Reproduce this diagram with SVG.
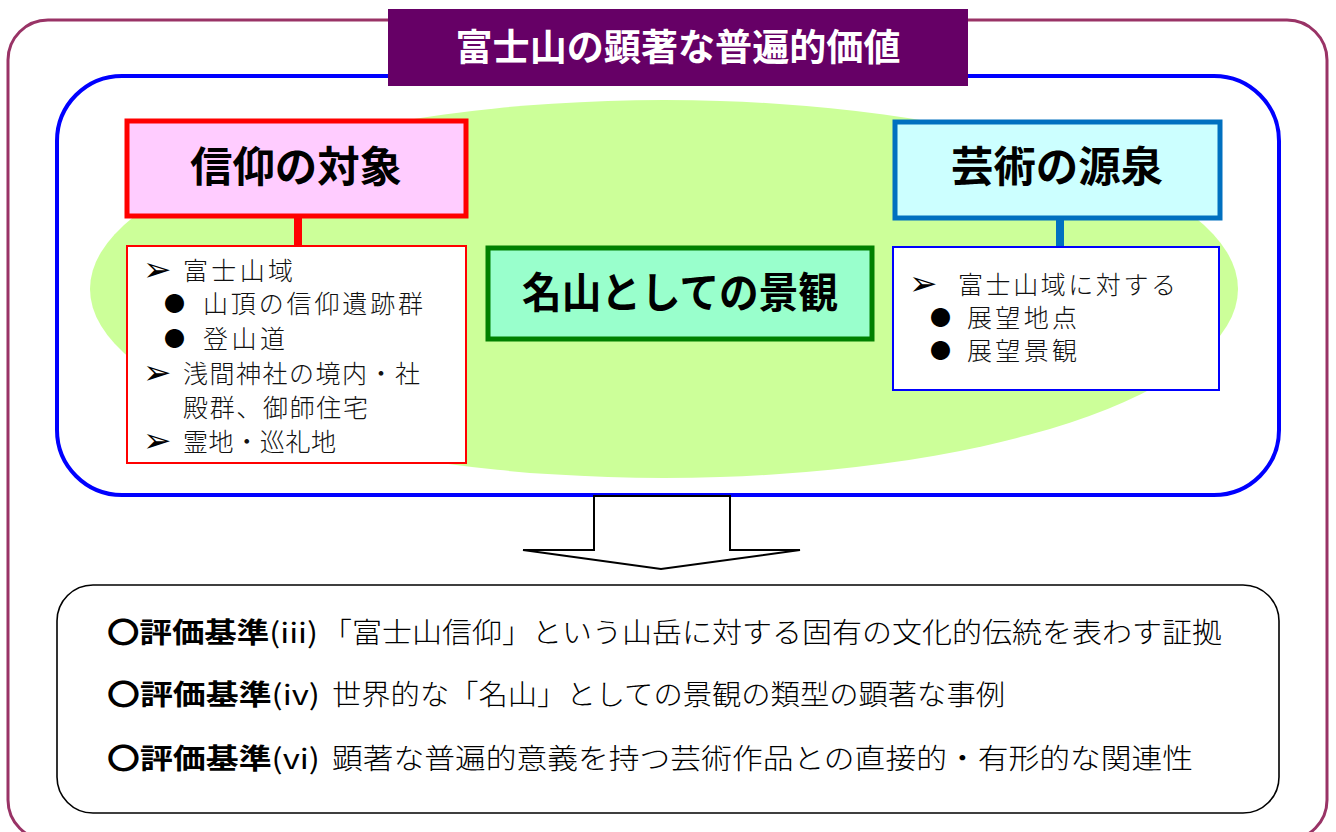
<svg xmlns="http://www.w3.org/2000/svg" width="1336" height="832" viewBox="0 0 1336 832">
<style>
.jp{font-family:"Noto Sans CJK JP","Noto Sans",sans-serif;}
.hd{font-family:"Noto Sans CJK JP","Noto Sans",sans-serif;font-weight:bold;font-size:42px;fill:#000;text-anchor:middle;}
.li{font-family:"Noto Sans CJK JP","Noto Sans",sans-serif;font-size:25px;fill:#111;font-weight:300;}
.ar{font-family:"DejaVu Sans",sans-serif;font-size:34px;fill:#000;}
.bt{font-family:"Noto Sans CJK JP",sans-serif;font-size:21px;fill:#000;}
.cr{font-family:"Noto Sans CJK JP","Noto Sans",sans-serif;font-size:28px;fill:#000;}
.crb{font-family:"Noto Sans CJK JP","Noto Sans",sans-serif;font-size:28px;fill:#000;font-weight:bold;}
</style>
<rect width="1336" height="832" fill="#fff"/>
<g id="frame">
<rect x="8" y="20" width="1319" height="820" rx="40" ry="40" fill="none" stroke="#993366" stroke-width="3"/>
</g>
<g id="value-area">
<rect x="57" y="76" width="1222" height="419" rx="65" ry="65" fill="#fff" stroke="#0000ff" stroke-width="4"/>
<ellipse cx="664" cy="289" rx="574" ry="189" fill="#ccff99"/>
</g>
<g id="title">
<rect x="388" y="9" width="580" height="77" fill="#660066"/>
<text x="678" y="61" class="jp" font-size="37" font-weight="bold" fill="#fff" text-anchor="middle" textLength="445" lengthAdjust="spacingAndGlyphs">富士山の顕著な普遍的価値</text>
</g>
<g id="connectors">
<line x1="298" y1="216" x2="298" y2="246" stroke="#ff0000" stroke-width="8"/>
<line x1="1060" y1="218" x2="1060" y2="247" stroke="#0070c0" stroke-width="8"/>
<path d="M594 496 L730 496 L730 550 L800 550 L661 569 L523 550 L594 550 Z" fill="#fff" stroke="#000" stroke-width="2" stroke-linejoin="miter"/>
</g>
<g id="shinko">
<rect x="127" y="121" width="339" height="95" fill="#ffccff" stroke="#ff0000" stroke-width="5"/>
<text x="296" y="182" class="hd" textLength="212" lengthAdjust="spacingAndGlyphs">信仰の対象</text>
</g>
<g id="shinko-list">
<rect x="127" y="246" width="339" height="217" fill="#fff" stroke="#ff0000" stroke-width="2"/>
<text x="143" y="281" class="ar">➢</text><text x="183" y="280" class="li" textLength="110">富士山域</text>
<text x="164" y="311" class="bt">●</text><text x="203" y="313" class="li" textLength="220">山頂の信仰遺跡群</text>
<text x="164" y="346" class="bt">●</text><text x="203" y="348" class="li" textLength="82">登山道</text>
<text x="143" y="384" class="ar">➢</text><text x="183" y="383" class="li" textLength="237">浅間神社の境内・社</text>
<text x="183" y="417" class="li" textLength="185">殿群、御師住宅</text>
<text x="143" y="452" class="ar">➢</text><text x="183" y="451" class="li" textLength="153">霊地・巡礼地</text>
</g>
<g id="geijutsu">
<rect x="895" y="122" width="325" height="96" fill="#ccffff" stroke="#0070c0" stroke-width="5"/>
<text x="1057" y="182" class="hd" textLength="212" lengthAdjust="spacingAndGlyphs">芸術の源泉</text>
</g>
<g id="geijutsu-list">
<rect x="893" y="247" width="326" height="143" fill="#fff" stroke="#0000ff" stroke-width="2"/>
<text x="909" y="295" class="ar">➢</text><text x="958" y="294" class="li" textLength="218">富士山域に対する</text>
<text x="930" y="325" class="bt">●</text><text x="967" y="327" class="li" textLength="110">展望地点</text>
<text x="930" y="358" class="bt">●</text><text x="967" y="360" class="li" textLength="110">展望景観</text>
</g>
<g id="meizan">
<rect x="488" y="248" width="384" height="91" fill="#99ffcc" stroke="#008000" stroke-width="5"/>
<text x="680" y="308" class="hd" font-size="39" textLength="316" lengthAdjust="spacingAndGlyphs">名山としての景観</text>
</g>
<g id="criteria">
<rect x="57" y="585" width="1222" height="228" rx="36" ry="36" fill="#fff" stroke="#000" stroke-width="1.6"/>
<text x="107" y="643" class="crb" textLength="211" lengthAdjust="spacingAndGlyphs">〇評価基準<tspan font-weight="normal">(iii)</tspan></text>
<text x="322" y="643" class="cr" font-weight="300" textLength="900" lengthAdjust="spacingAndGlyphs">「富士山信仰」という山岳に対する固有の文化的伝統を表わす証拠</text>
<text x="107" y="705" class="crb" textLength="213" lengthAdjust="spacingAndGlyphs">〇評価基準<tspan font-weight="normal">(iv)</tspan></text>
<text x="332" y="705" class="cr" font-weight="300" textLength="673" lengthAdjust="spacingAndGlyphs">世界的な「名山」としての景観の類型の顕著な事例</text>
<text x="107" y="769" class="crb" textLength="213" lengthAdjust="spacingAndGlyphs">〇評価基準<tspan font-weight="normal">(vi)</tspan></text>
<text x="332" y="769" class="cr" font-weight="300" textLength="861" lengthAdjust="spacingAndGlyphs">顕著な普遍的意義を持つ芸術作品との直接的・有形的な関連性</text>
</g>
</svg>
